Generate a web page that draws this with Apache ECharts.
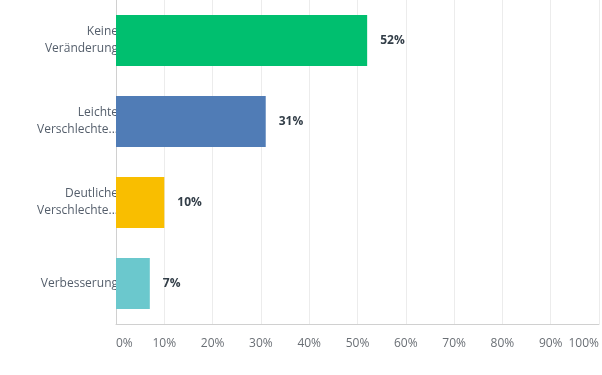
<!DOCTYPE html>
<html><head><meta charset="utf-8">
<script src="https://cdn.jsdelivr.net/npm/echarts@6/dist/echarts.min.js"></script>
<style>html,body{margin:0;padding:0;background:#fff}#c{width:602px;height:375px}</style>
</head><body><div id="c"></div>
<script>
const categories = ["Keine\nVeränderung", "Leichte\nVerschlechte...", "Deutliche\nVerschlechte...", "Verbesserung"];
const values = [52, 31, 10, 7];
const colors = ["#00bf6f", "#507cb6", "#f9be00", "#6bc8cd"];
const tickLabels = ["0%", "10%", "20%", "30%", "40%", "50%", "60%", "70%", "80%", "90%", "100%"];

const chart = echarts.init(document.getElementById('c'));
chart.setOption({
  animation: false,
  grid: { left: 116, right: 2, top: 0, bottom: 51, containLabel: false },
  xAxis: {
    type: 'value', min: 0, max: 100, interval: 10,
    axisLine: { show: true, lineStyle: { color: '#d0d0d0', width: 1 } },
    axisTick: { show: false },
    splitLine: { show: true, lineStyle: { color: '#ececec', width: 1 } },
    axisLabel: {
      margin: 14, color: '#6a6f75', fontSize: 12, fontFamily: 'Open Sans',
      alignMinLabel: 'left', alignMaxLabel: 'right',
      formatter: v => tickLabels[Math.round(v / 10)]
    }
  },
  yAxis: {
    type: 'category', inverse: true, data: categories,
    axisLine: { show: true, lineStyle: { color: '#d0d0d0', width: 1 } },
    axisTick: { show: false },
    axisLabel: { margin: -2, color: '#545e6b', fontSize: 12, lineHeight: 17, fontFamily: 'Open Sans', align: 'right' }
  },
  series: [{
    type: 'bar', barWidth: '63%',
    data: values.map((v, i) => ({ value: v, itemStyle: { color: colors[i] } })),
    label: {
      show: true, position: 'right', distance: 13,
      color: '#333e48', fontWeight: 'bold', fontSize: 12, fontFamily: 'Open Sans',
      formatter: p => p.value + '%'
    }
  }]
});
</script></body></html>
